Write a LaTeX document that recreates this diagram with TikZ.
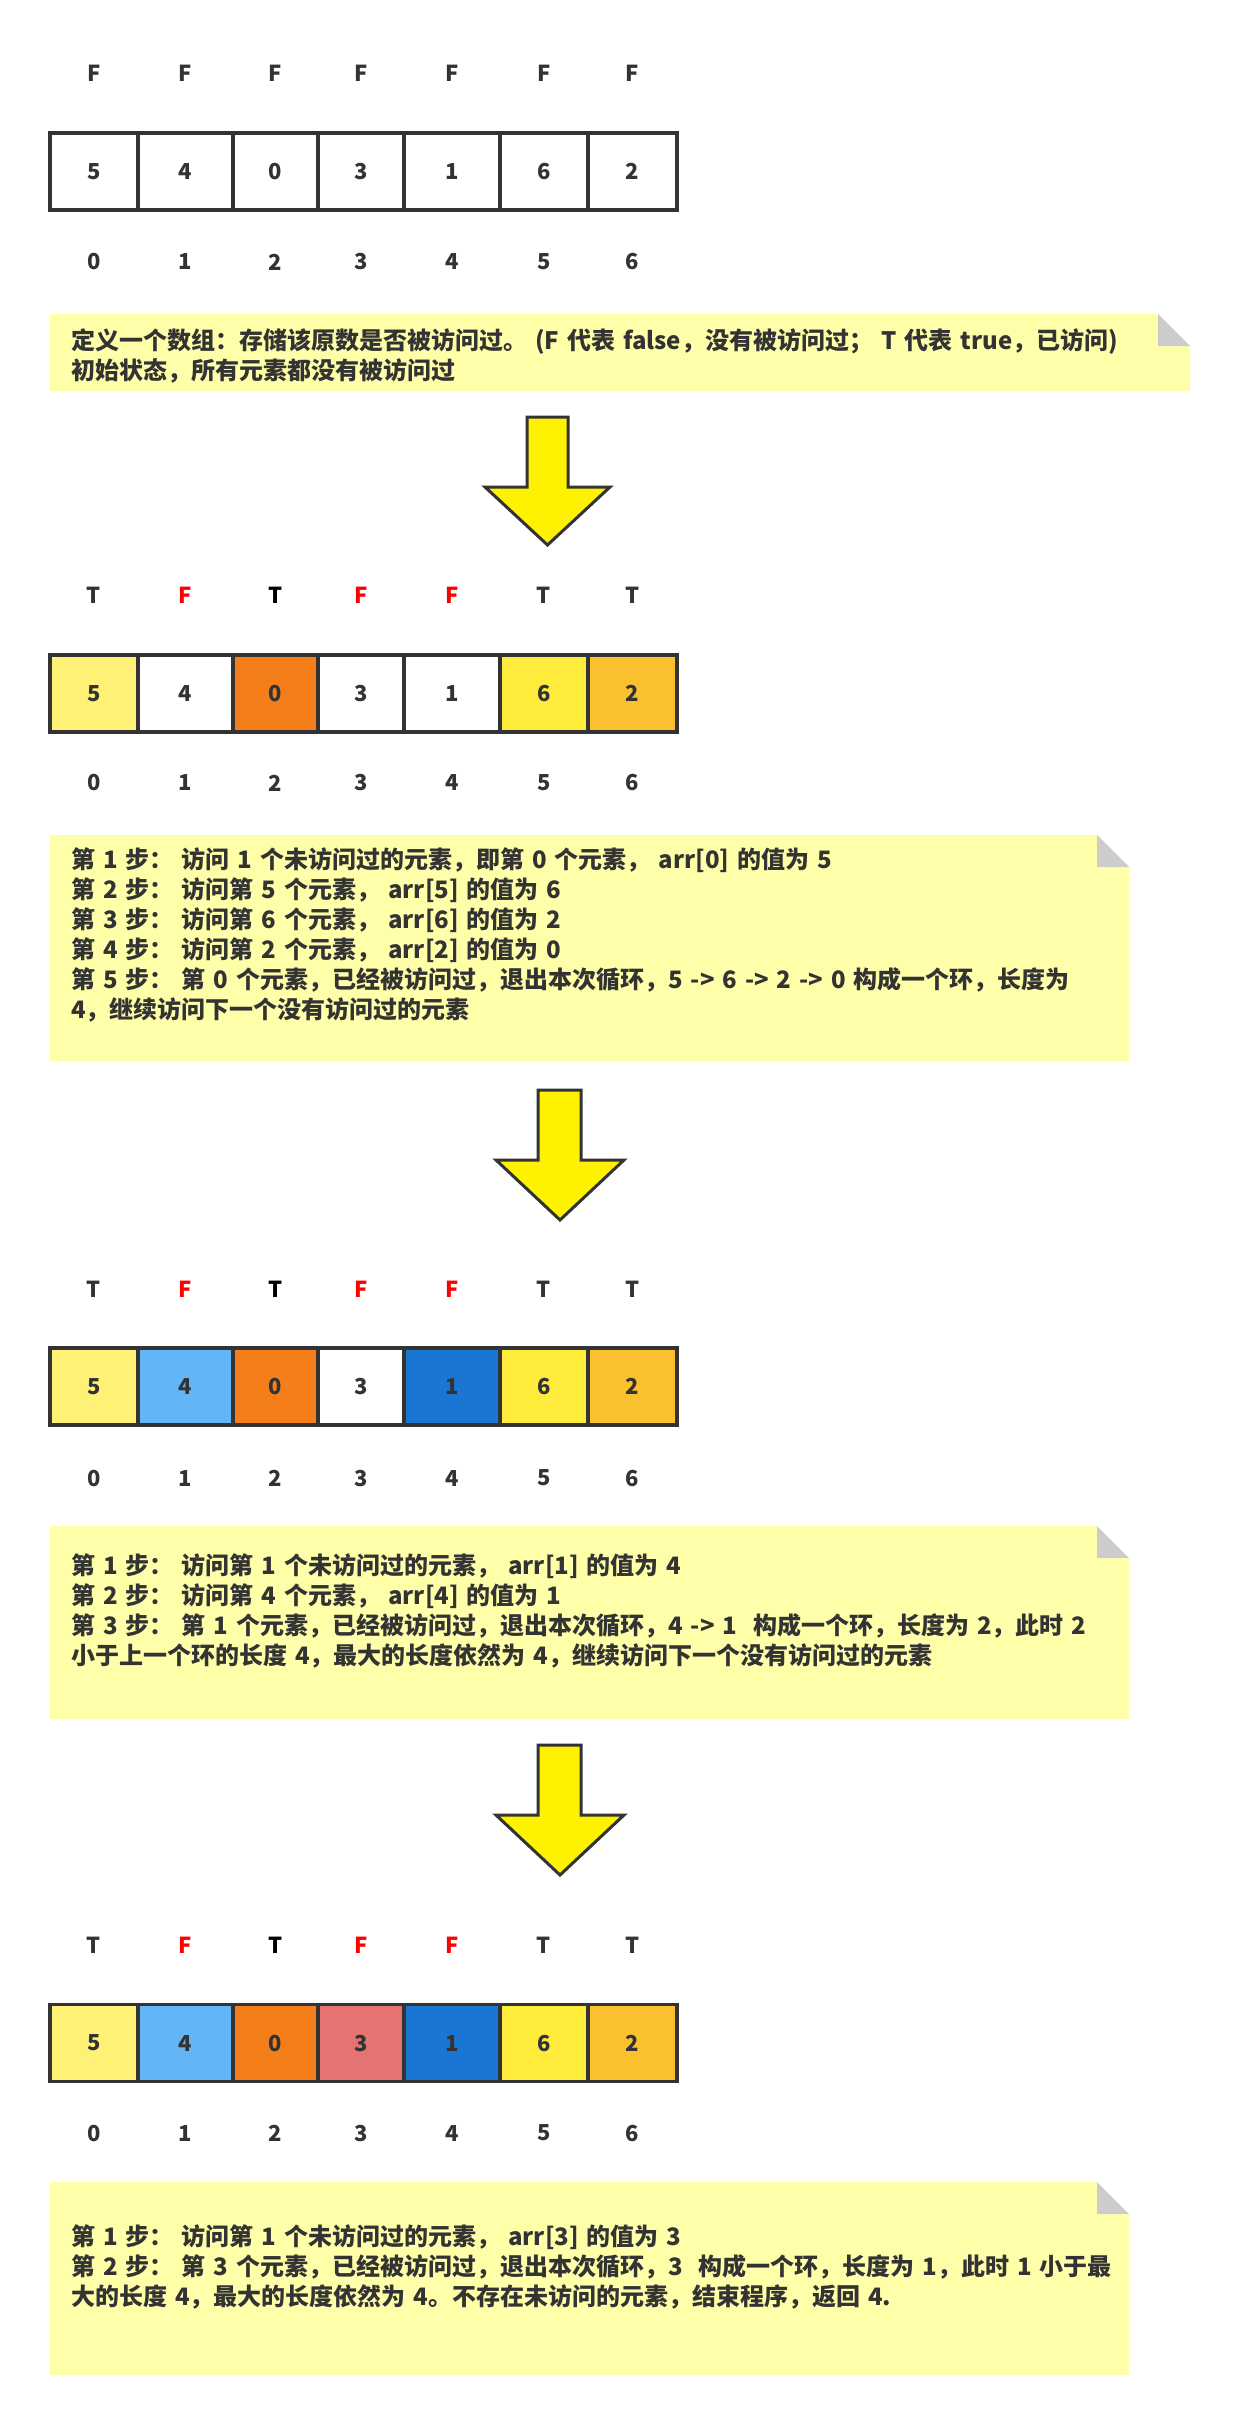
\documentclass[tikz,border=0pt]{standalone}
\usepackage{fontspec}
\setmainfont{Noto Sans CJK SC}
\newfontfamily\notefont{Noto Sans CJK SC}[WordSpace=1.45]
\usepackage{xcolor}
\definecolor{line}{HTML}{333333}
\definecolor{notebg}{HTML}{FFFFAA}
\definecolor{fold}{HTML}{CCCCCC}
\definecolor{cfive}{HTML}{FFF176}
\definecolor{czero}{HTML}{F47F1A}
\definecolor{csix}{HTML}{FFEB3B}
\definecolor{ctwo}{HTML}{FBC02D}
\definecolor{cfour}{HTML}{64B5F6}
\definecolor{cone}{HTML}{1976D2}
\definecolor{cthree}{HTML}{E57373}
\definecolor{falsered}{HTML}{FF0000}

\begin{document}
\begin{tikzpicture}[x=1pt,y=-1pt,
    cell/.style={draw=line,line width=3.5pt,minimum height=77pt,inner sep=0pt,
        font=\fontsize{22}{26}\selectfont\bfseries,text=line},
    lbl/.style={inner sep=0pt,font=\fontsize{22}{26}\selectfont\bfseries,text=line},
    notetxt/.style={anchor=north west,align=left,inner sep=0pt,
        font=\notefont\fontsize{24}{30}\selectfont\bfseries,text=line},
    bigarrow/.style={fill=yellow,draw=line,line width=3pt,line join=miter}]
        \fill[white] (0,0) rectangle (1240,2424);
        \useasboundingbox (0,0) rectangle (1240,2424);

        % initial array, nothing visited
        \foreach \i/\l/\r/\v in {0/50/138/5,1/138/233/4,2/233/318/0,3/318/404/3,4/404/500/1,5/500/588/6,6/588/677/2}{
            \node[cell,fill=white,minimum width={(\r-\l)*1pt}] (a1\i) at ({(\l+\r)/2},171.5) {\v};
            \node[lbl] (f1\i) at ({(\l+\r)/2},73) {F};
            \node[lbl] (n1\i) at ({(\l+\r)/2},262) {\i};
        }
        \fill[notebg] (50,314) -- (1158,314) -- (1190,346) -- (1190,391) -- (50,391) -- cycle;
        \fill[fold] (1158,314) -- (1158,346) -- (1190,346) -- cycle;
        \node[notetxt] (t1) at (71,328) {定义一个数组：存储该原数是否被访问过。 (F 代表 false，没有被访问过； T 代表 true，已访问)\\初始状态，所有元素都没有被访问过};

        \draw[bigarrow] (527,417) -- (568,417) -- (568,487) -- (610,487) -- (547.5,545) -- (485,487) -- (527,487) -- cycle;

        % first ring 5 -> 6 -> 2 -> 0
        \foreach \i/\l/\r/\v/\c/\t/\tc in {0/50/138/5/cfive/T/line,1/138/233/4/white/F/falsered,2/233/318/0/czero/T/black,3/318/404/3/white/F/falsered,4/404/500/1/white/F/falsered,5/500/588/6/csix/T/line,6/588/677/2/ctwo/T/line}{
            \node[cell,fill=\c,minimum width={(\r-\l)*1pt}] (a2\i) at ({(\l+\r)/2},693.5) {\v};
            \node[lbl,text=\tc] (f2\i) at ({(\l+\r)/2},595) {\t};
            \node[lbl] (n2\i) at ({(\l+\r)/2},783) {\i};
        }
        \fill[notebg] (50,835) -- (1097,835) -- (1129,867) -- (1129,1061) -- (50,1061) -- cycle;
        \fill[fold] (1097,835) -- (1097,867) -- (1129,867) -- cycle;
        \node[notetxt] (t2) at (71,848) {第 1 步： 访问 1 个未访问过的元素，即第 0 个元素， arr[0] 的值为 5\\
            第 2 步： 访问第 5 个元素， arr[5] 的值为 6\\
            第 3 步： 访问第 6 个元素， arr[6] 的值为 2\\
            第 4 步： 访问第 2 个元素， arr[2] 的值为 0\\
            第 5 步： 第 0 个元素，已经被访问过，退出本次循环，5 -> 6 -> 2 -> 0 构成一个环，长度为\\
            4，继续访问下一个没有访问过的元素};

        \draw[bigarrow] (538,1090) -- (581,1090) -- (581,1160) -- (624,1160) -- (560,1220) -- (496,1160) -- (538,1160) -- cycle;

        % second ring 4 -> 1
        \foreach \i/\l/\r/\v/\c/\t/\tc in {0/50/138/5/cfive/T/line,1/138/233/4/cfour/F/falsered,2/233/318/0/czero/T/black,3/318/404/3/white/F/falsered,4/404/500/1/cone/F/falsered,5/500/588/6/csix/T/line,6/588/677/2/ctwo/T/line}{
            \node[cell,fill=\c,minimum width={(\r-\l)*1pt}] (a3\i) at ({(\l+\r)/2},1386.5) {\v};
            \node[lbl,text=\tc] (f3\i) at ({(\l+\r)/2},1289) {\t};
            \node[lbl] (n3\i) at ({(\l+\r)/2},1478) {\i};
        }
        \fill[notebg] (50,1526) -- (1097,1526) -- (1129,1558) -- (1129,1719) -- (50,1719) -- cycle;
        \fill[fold] (1097,1526) -- (1097,1558) -- (1129,1558) -- cycle;
        \node[notetxt] (t3) at (71,1554) {第 1 步： 访问第 1 个未访问过的元素， arr[1] 的值为 4\\
            第 2 步： 访问第 4 个元素， arr[4] 的值为 1\\
            第 3 步： 第 1 个元素，已经被访问过，退出本次循环，4 -> 1 \ 构成一个环，长度为 2，此时 2\\
            小于上一个环的长度 4，最大的长度依然为 4，继续访问下一个没有访问过的元素};

        \draw[bigarrow] (538,1745) -- (581,1745) -- (581,1815) -- (624,1815) -- (560,1875) -- (496,1815) -- (538,1815) -- cycle;

        % last ring 3
        \foreach \i/\l/\r/\v/\c/\t/\tc in {0/50/138/5/cfive/T/line,1/138/233/4/cfour/F/falsered,2/233/318/0/czero/T/black,3/318/404/3/cthree/F/falsered,4/404/500/1/cone/F/falsered,5/500/588/6/csix/T/line,6/588/677/2/ctwo/T/line}{
            \node[cell,fill=\c,minimum width={(\r-\l)*1pt}] (a4\i) at ({(\l+\r)/2},2043) {\v};
            \node[lbl,text=\tc] (f4\i) at ({(\l+\r)/2},1945) {\t};
            \node[lbl] (n4\i) at ({(\l+\r)/2},2133) {\i};
        }
        \fill[notebg] (50,2182) -- (1097,2182) -- (1129,2214) -- (1129,2375) -- (50,2375) -- cycle;
        \fill[fold] (1097,2182) -- (1097,2214) -- (1129,2214) -- cycle;
        \node[notetxt] (t4) at (71,2225) {第 1 步： 访问第 1 个未访问过的元素， arr[3] 的值为 3\\
            第 2 步： 第 3 个元素，已经被访问过，退出本次循环，3 \ 构成一个环，长度为 1，此时 1 小于最\\
            大的长度 4，最大的长度依然为 4。不存在未访问的元素，结束程序，返回 4.};
\end{tikzpicture}
\end{document}
